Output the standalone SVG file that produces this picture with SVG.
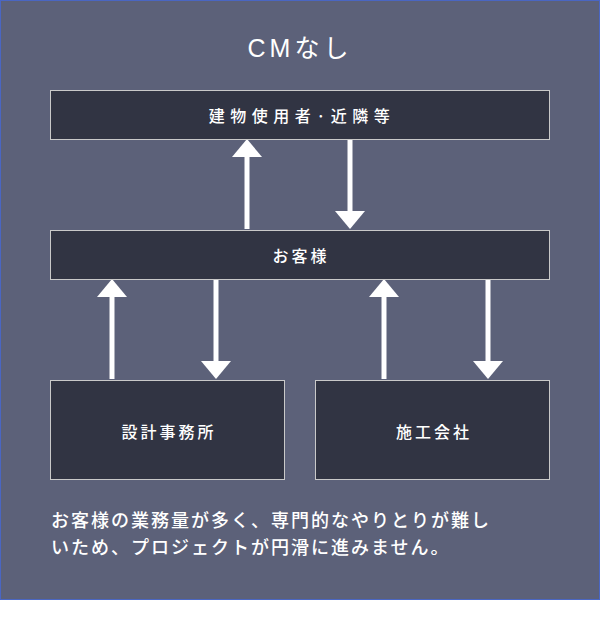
<svg xmlns="http://www.w3.org/2000/svg" width="600" height="640" viewBox="0 0 600 640">
<defs>
<style>
.bg{fill:#5c6179;stroke:#4a66c2;stroke-width:1}
.box{fill:#313443;stroke:#c9c9c9;stroke-width:1}
.lbl{fill:#ffffff;font-family:"Noto Sans CJK JP","Noto Sans",sans-serif;font-size:16px;font-weight:500;letter-spacing:3px;text-anchor:middle;dominant-baseline:central}
.title{fill:#ffffff;font-family:"Liberation Sans","Noto Sans CJK JP",sans-serif;font-size:25px;letter-spacing:4px;text-anchor:middle}
.note{fill:#ffffff;font-family:"Noto Sans CJK JP",sans-serif;font-size:18px;font-weight:500;letter-spacing:2px}
.shaft{stroke:#ffffff;stroke-width:5;fill:none}
.head{fill:#ffffff}
</style>
</defs>
<rect x="0" y="0" width="600" height="640" fill="#ffffff"/>
<rect class="bg" x="0.5" y="0.5" width="599" height="599"/>
<text class="title" x="300" y="57">CMなし</text>
<g id="connectors">
<line class="shaft" x1="247" y1="229" x2="247" y2="155"/>
<polygon class="head" points="247,139 232,157 262,157"/>
<line class="shaft" x1="350" y1="139" x2="350" y2="213"/>
<polygon class="head" points="350,229 335,211 365,211"/>
<line class="shaft" x1="112" y1="379" x2="112" y2="296"/>
<polygon class="head" points="112,279 97,297 127,297"/>
<line class="shaft" x1="216" y1="279" x2="216" y2="363"/>
<polygon class="head" points="216,379 201,361 231,361"/>
<line class="shaft" x1="384" y1="379" x2="384" y2="296"/>
<polygon class="head" points="384,279 369,297 399,297"/>
<line class="shaft" x1="488" y1="279" x2="488" y2="363"/>
<polygon class="head" points="488,379 473,361 503,361"/>
</g>
<g id="users">
<rect class="box" x="50.5" y="90.5" width="499" height="49"/>
<text class="lbl" x="302" y="115" style="letter-spacing:5.5px">建物使用者·近隣等</text>
</g>
<g id="client">
<rect class="box" x="50.5" y="230.5" width="499" height="49"/>
<text class="lbl" x="301" y="255">お客様</text>
</g>
<g id="design">
<rect class="box" x="50.5" y="380.5" width="234" height="99"/>
<text class="lbl" x="169" y="431">設計事務所</text>
</g>
<g id="builder">
<rect class="box" x="315.5" y="380.5" width="234" height="99"/>
<text class="lbl" x="434" y="431">施工会社</text>
</g>
<text class="note" x="51" y="527">お客様の業務量が多く、専門的なやりとりが難し</text>
<text class="note" x="51" y="554">いため、プロジェクトが円滑に進みません。</text>
</svg>
